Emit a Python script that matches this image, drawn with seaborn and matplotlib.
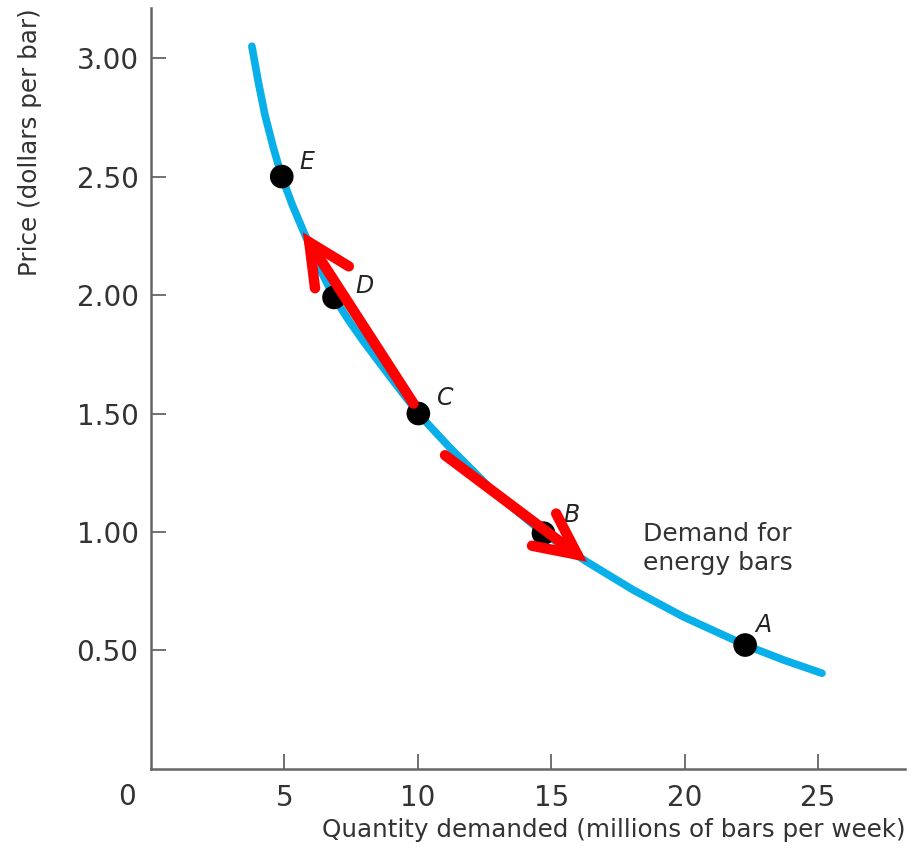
import matplotlib
matplotlib.use('Agg')
import matplotlib.pyplot as plt
import seaborn as sns
import pandas as pd

# demand curve
curve_q = [3.78, 4.02, 4.27, 4.59, 4.90, 5.28, 5.71, 6.29, 6.86, 7.40, 7.96, 8.96, 10.02,
           10.59, 11.21, 12.94, 14.71, 16.34, 18.08, 19.96, 22.27, 23.71, 25.15]
curve_p = [3.05, 2.90, 2.76, 2.62, 2.50, 2.385, 2.27, 2.12, 1.99, 1.895, 1.805, 1.655, 1.50,
           1.43, 1.355, 1.16, 0.995, 0.874, 0.755, 0.642, 0.523, 0.46, 0.404]

# labelled points
point_names = ['E', 'D', 'C', 'B', 'A']
point_q = [4.9, 6.86, 10.02, 14.71, 22.27]
point_p = [2.50, 1.99, 1.50, 0.995, 0.523]
label_q = [5.55, 7.65, 10.72, 15.45, 22.65]
label_p = [2.56, 2.04, 1.564, 1.07, 0.607]

x_ticks = [5, 10, 15, 20, 25]
y_ticks = [0.5, 1.0, 1.5, 2.0, 2.5, 3.0]
y_tick_labels = ['0.50', '1.00', '1.50', '2.00', '2.50', '3.00']

# red arrows (tail, head)
arrow_up = ((9.84, 1.542), (5.69, 2.265))
arrow_down = ((11.02, 1.324), (16.34, 0.874))

sns.set_style('white')
plt.rcParams['font.family'] = ['DejaVu Sans']

curve_df = pd.DataFrame({'q': curve_q, 'p': curve_p})
points_df = pd.DataFrame({'q': point_q, 'p': point_p, 'name': point_names})

fig = plt.figure(figsize=(9.22, 8.48), dpi=100)
ax = fig.add_axes([0.1638, 0.0932, 0.818, 0.897])

sns.lineplot(data=curve_df, x='q', y='p', ax=ax, color='#08afe8', lw=5.5,
             sort=False, estimator=None, zorder=2)
sns.scatterplot(data=points_df, x='q', y='p', ax=ax, color='black', s=290,
                edgecolor='none', zorder=3)

for name, q, p in zip(point_names, label_q, label_p):
    ax.text(q, p, name, fontsize=17, style='italic', color='#222222',
            ha='left', va='center', zorder=3)

for tail, head in (arrow_up, arrow_down):
    ax.annotate('', xy=head, xytext=tail,
                arrowprops=dict(arrowstyle='->,head_length=3.0,head_width=1.45',
                                color='#ff0000', lw=7.5, capstyle='round',
                                joinstyle='miter', shrinkA=0, shrinkB=0),
                zorder=4)

ax.text(18.45, 0.93, 'Demand for\nenergy bars', fontsize=18, color='#333333',
        ha='left', va='center', linespacing=1.25)

ax.set_xlim(0, 28.27)
ax.set_ylim(0, 3.21)
ax.set_xticks(x_ticks)
ax.set_xticklabels([str(t) for t in x_ticks])
ax.set_yticks(y_ticks)
ax.set_yticklabels(y_tick_labels)
ax.tick_params(bottom=True, left=True, direction='in', length=11, width=1.3,
               color='#666666', labelsize=20, labelcolor='#333333')
ax.tick_params(axis='x', pad=11)
ax.tick_params(axis='y', pad=9)

ax.text(-0.9, -0.12, '0', fontsize=20, color='#333333', ha='center', va='center',
        clip_on=False)

for side in ['top', 'right']:
    ax.spines[side].set_visible(False)
for side in ['left', 'bottom']:
    ax.spines[side].set_color('#666666')
    ax.spines[side].set_linewidth(1.8)

ax.set_xlabel('Quantity demanded (millions of bars per week)', fontsize=17.7,
              color='#333333', loc='right', labelpad=4)
ax.set_ylabel('Price (dollars per bar)', fontsize=17.7, color='#333333',
              loc='top', labelpad=25)

fig.savefig('out.png', dpi=100)
